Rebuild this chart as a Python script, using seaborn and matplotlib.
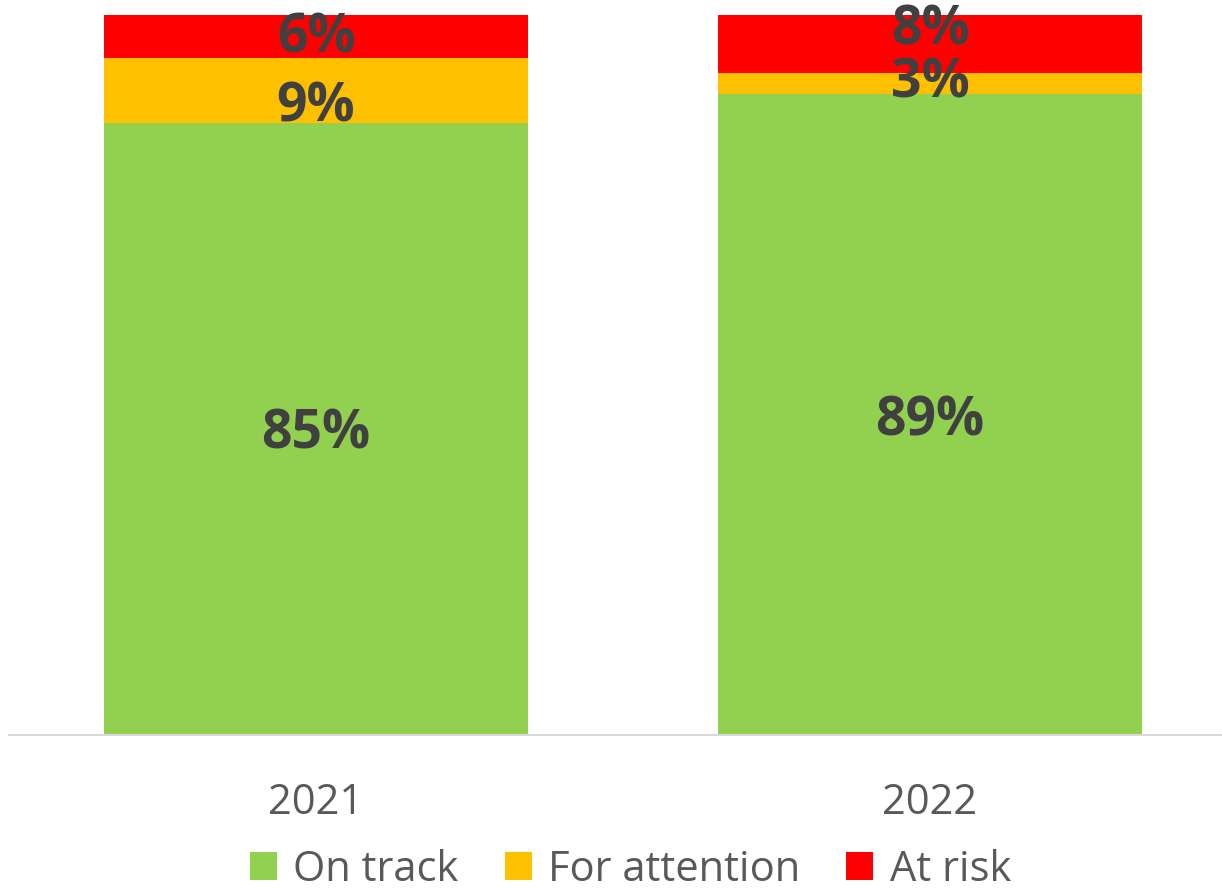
import matplotlib
matplotlib.use("Agg")
import matplotlib.pyplot as plt
from matplotlib.patches import Patch
import seaborn as sns
import pandas as pd
import numpy as np

years = ["2021", "2022"]
series = ["On track", "For attention", "At risk"]
on_track = [85, 89]
for_attention = [9, 3]
at_risk = [6, 8]
colors = ["#92D050", "#FFC000", "#FF0000"]

sns.set_theme(style="white")
plt.rcParams["font.family"] = ["Open Sans", "DejaVu Sans"]

W, H = 1222, 896
fig = plt.figure(figsize=(W / 100, H / 100), dpi=100)
ax = fig.add_axes([9 / W, (H - 735) / H, 1228 / W, 720 / H])

values = np.array([on_track, for_attention, at_risk], dtype=float)
cum = np.cumsum(values, axis=0)

# Stack by drawing cumulative totals from the top layer down
for i in range(len(series) - 1, -1, -1):
    df = pd.DataFrame({"year": years, "value": cum[i]})
    sns.barplot(data=df, x="year", y="value", color=colors[i], width=0.69,
                saturation=1, ax=ax, edgecolor="none", linewidth=0)

# Value labels, nudged where neighbouring labels would collide
nudge = [[-0.7, -1.0], [-2.3, 0], [-0.3, 1.8]]
for i in range(len(series)):
    for j in range(len(years)):
        mid = cum[i][j] - values[i][j] / 2 + nudge[i][j]
        ax.text(j, mid, f"{int(values[i][j])}%", ha="center", va="center",
                fontsize=38.5, fontweight="bold", color="#404040")

ax.set_xlim(-0.5, 1.5)
ax.set_ylim(0, 100)
ax.set_xlabel("")
ax.set_ylabel("")
ax.set_yticks([])
for s in ["top", "left", "right"]:
    ax.spines[s].set_visible(False)
ax.spines["bottom"].set_color("#D9D9D9")
ax.spines["bottom"].set_linewidth(1.5)
ax.tick_params(axis="x", length=0, pad=34, labelsize=30, labelcolor="#595959")

handles = [Patch(facecolor=c, edgecolor="none", label=s) for c, s in zip(colors, series)]
fig.legend(handles=handles, loc="center", bbox_to_anchor=(0.516, 0.029), ncol=3,
           frameon=False, fontsize=30, labelcolor="#595959",
           handlelength=0.65, handleheight=0.65, handletextpad=0.4, columnspacing=1.1)

fig.savefig("out.png", dpi=100)
